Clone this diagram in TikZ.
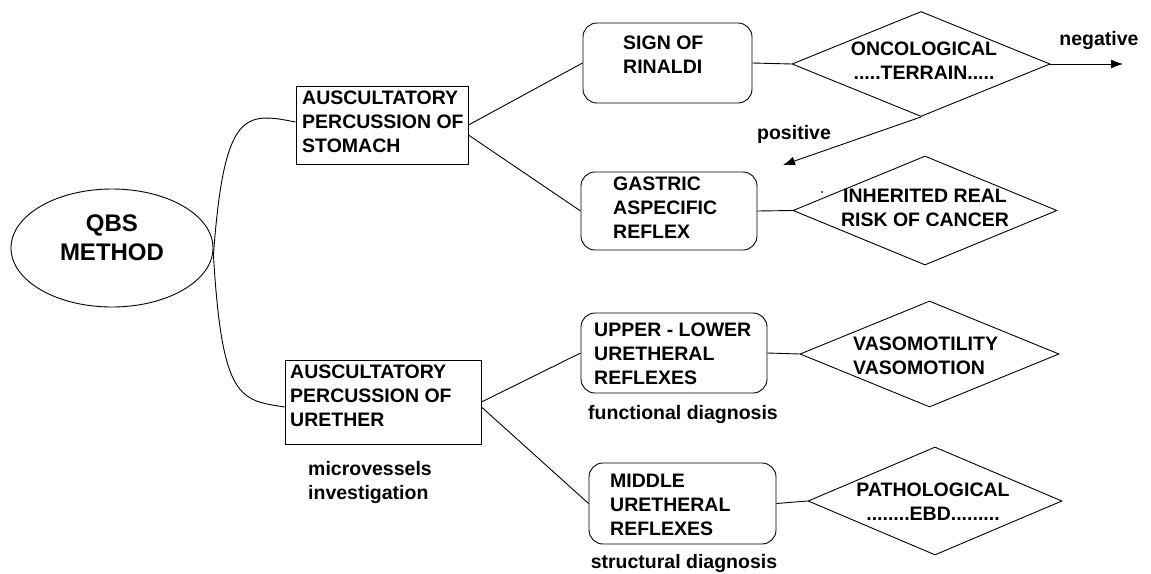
\documentclass[tikz,border=0pt]{standalone}
\usepackage{fontspec}
\setmainfont{Liberation Sans}
\usetikzlibrary{shapes.geometric,arrows.meta,calc}
\begin{document}
\begin{tikzpicture}[x=1pt,y=-1pt,
  conn/.style={draw=black,line width=0.9pt},
  arr/.style={conn,-{Latex[length=12pt,width=9pt]}},
  rect/.style={draw=black,line width=0.9pt,rectangle,inner sep=0},
  rbox/.style={draw=black,line width=0.9pt,rectangle,rounded corners=14pt,inner sep=0},
  dia/.style={draw=black,line width=0.9pt,diamond,inner sep=0},
  ell/.style={draw=black,line width=0.9pt,ellipse,inner sep=0},
  txt/.style={inner sep=0,font=\fontsize{19.5}{24}\selectfont\bfseries,align=left},
  ctxt/.style={inner sep=0,font=\fontsize{19.5}{24}\selectfont\bfseries,align=center},
  lbl/.style={inner sep=0,font=\fontsize{19.5}{24}\selectfont\bfseries,align=left}
]
\useasboundingbox (0,0) rectangle (1151,573);

% shapes
\node[ell,minimum width=202pt,minimum height=118pt] (qbs) at (112,248) {};
\node[ctxt,font=\fontsize{24}{29}\selectfont\bfseries,anchor=north] (qbst) at (112,215) {QBS\\METHOD};

\node[rect,minimum width=172pt,minimum height=78pt] (stom) at (382,125) {};
\node[txt,anchor=north west] (stomt) at (302,91) {AUSCULTATORY\\PERCUSSION OF\\STOMACH};

\node[rect,minimum width=196pt,minimum height=84pt] (ureth) at (383,402) {};
\node[txt,anchor=north west] (uretht) at (290,365) {AUSCULTATORY\\PERCUSSION OF\\URETHER};
\node[lbl,anchor=north west] (micro) at (308,461) {microvessels\\investigation};

\node[rbox,minimum width=169pt,minimum height=80pt] (sign) at (667.5,63) {};
\node[txt,anchor=north west] (signt) at (623,36) {SIGN OF\\RINALDI};

\node[rbox,minimum width=176pt,minimum height=78pt] (gast) at (669,211) {};
\node[txt,anchor=north west] (gastt) at (613,177) {GASTRIC\\ASPECIFIC\\REFLEX};

\node[rbox,minimum width=186pt,minimum height=80pt] (upper) at (674,353) {};
\node[txt,anchor=north west] (uppert) at (594,323) {UPPER - LOWER\\URETHERAL\\REFLEXES};
\node[lbl,anchor=base] (func) at (683,419) {functional diagnosis};

\node[rbox,minimum width=187pt,minimum height=81pt] (middle) at (682.5,503.5) {};
\node[txt,anchor=north west] (middlet) at (610,474) {MIDDLE\\URETHERAL\\REFLEXES};
\node[lbl,anchor=base] (struct) at (684,568) {structural diagnosis};

\node[dia,minimum width=258pt,minimum height=105pt] (onco) at (921,64) {};
\node[ctxt,anchor=north] (oncot) at (924,42) {ONCOLOGICAL\\.....TERRAIN.....};

\node[dia,minimum width=264pt,minimum height=109pt] (inh) at (925,210.5) {};
\node[ctxt,anchor=north] (inht) at (925,189) {INHERITED REAL\\RISK OF CANCER};

\node[dia,minimum width=259pt,minimum height=106pt] (vaso) at (929.5,354) {};
\node[txt,anchor=north west] (vasot) at (853,337) {VASOMOTILITY\\VASOMOTION};

\node[dia,minimum width=254pt,minimum height=108pt] (path) at (935,501) {};
\node[ctxt,anchor=north] (patht) at (933,483) {PATHOLOGICAL\\........EBD.........};

\node[lbl,anchor=base] (neg) at (1099,45) {negative};
\node[lbl,anchor=base] (pos) at (794,139) {positive};

\coordinate (negend) at (1123,64);
\coordinate (posend) at (783,165);
\fill[black] (822,192) circle (1pt);

% connectors
\draw[conn] ([yshift=-7pt]qbs.east) .. controls (224,110) and (245,112) .. ([yshift=3pt]stom.west);
\draw[conn] ([yshift=-7pt]qbs.east) .. controls (222,400) and (240,400) .. ([yshift=-5pt]ureth.west);
\draw[conn] (stom.east) -- (sign.west);
\draw[conn] ([yshift=-10pt]stom.east) -- (gast.west);
\draw[conn] (ureth.east) -- (upper.west);
\draw[conn] ([yshift=-5pt]ureth.east) -- (middle.west);
\draw[conn] (sign.east) -- (onco.west);
\draw[conn] (gast.east) -- (inh.west);
\draw[conn] (upper.east) -- (vaso.west);
\draw[conn] (middle.east) -- (path.west);
\draw[arr] (onco.east) -- (negend);
\draw[arr] (onco.south) -- (posend);
\end{tikzpicture}
\end{document}
